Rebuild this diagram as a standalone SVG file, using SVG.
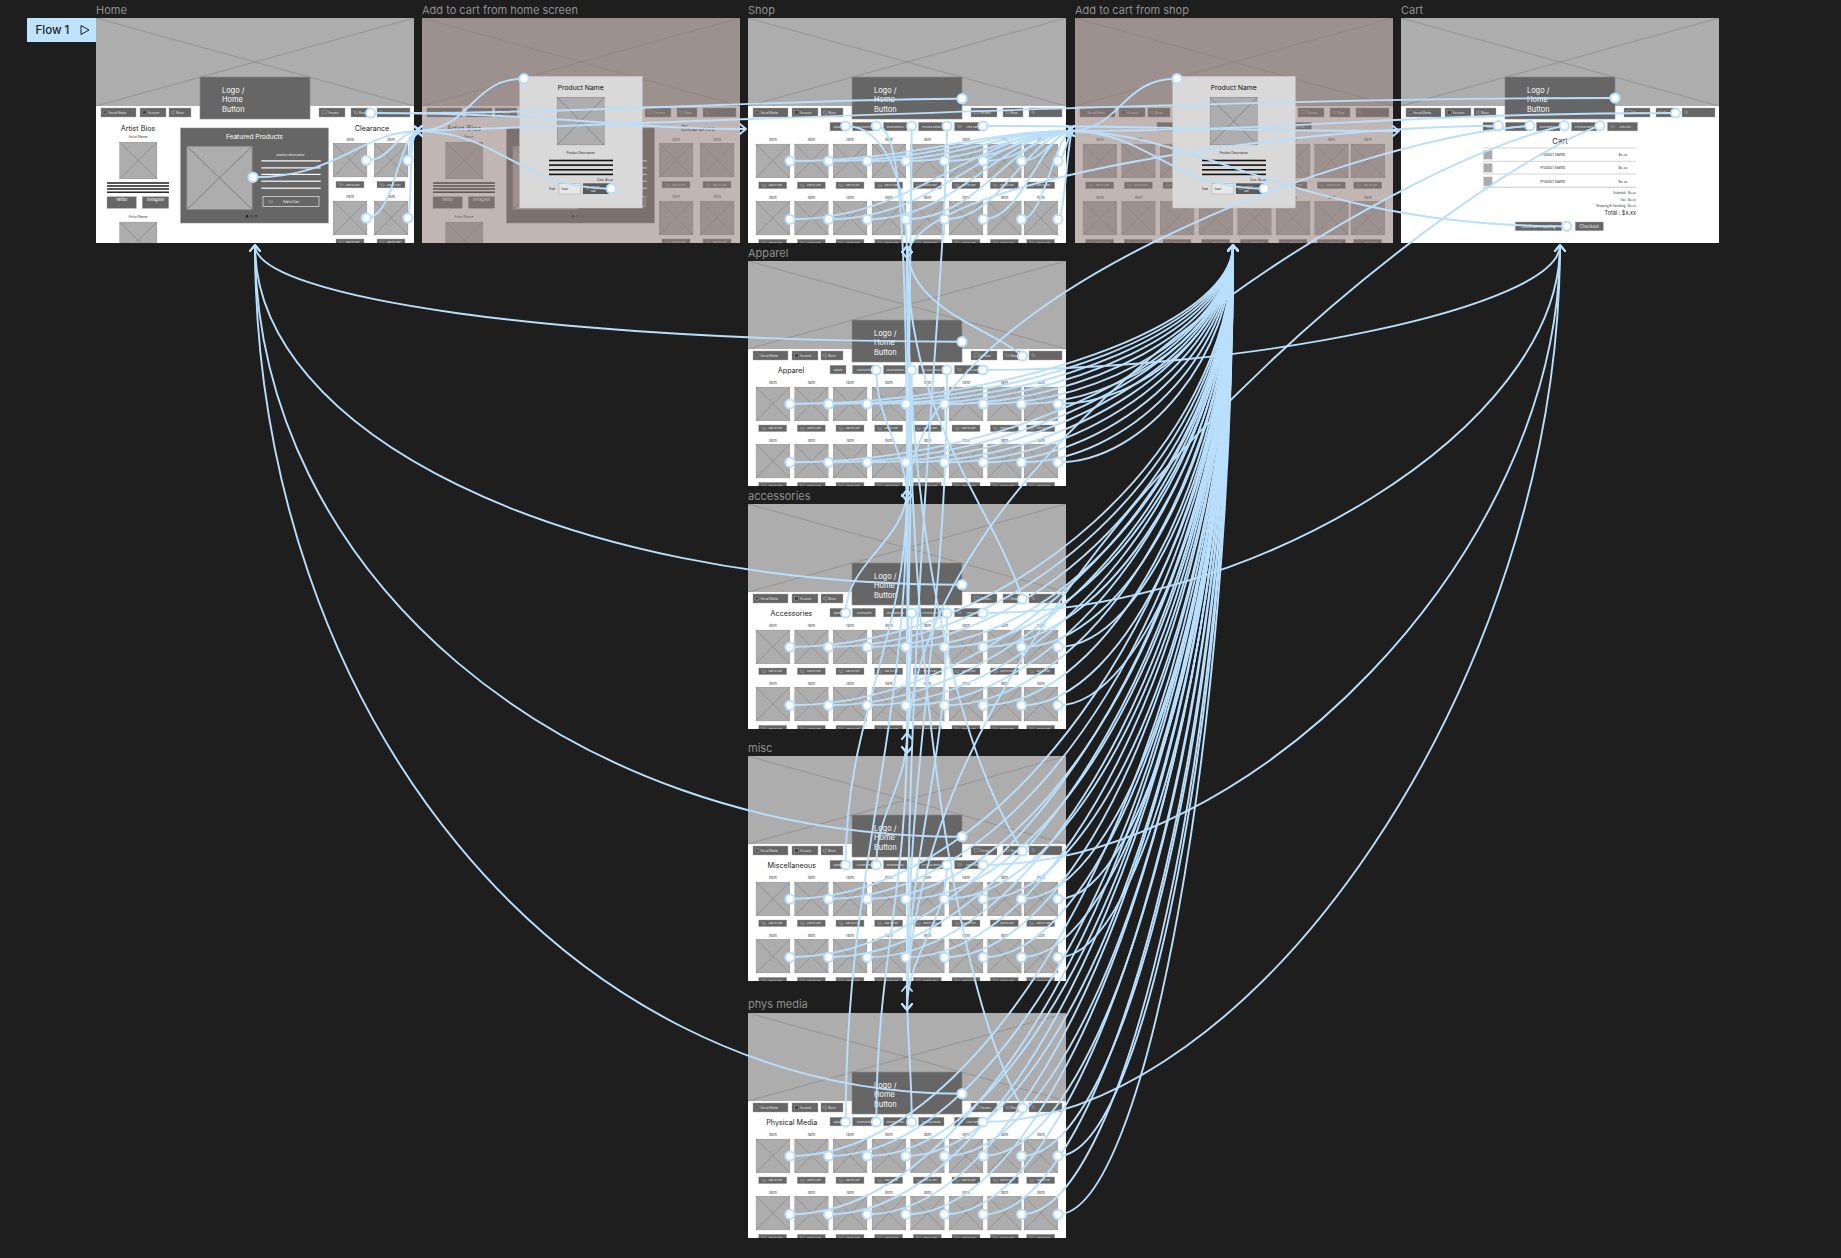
<svg xmlns="http://www.w3.org/2000/svg" xmlns:xlink="http://www.w3.org/1999/xlink" width="1841" height="1258" viewBox="0 0 1841 1258">
<style>
.t{font-family:Inter,"Liberation Sans",sans-serif}
.lbl{font-family:Inter,"Liberation Sans",sans-serif;font-size:11px;fill:#8f8f8f}
.btn{fill:#666;stroke:#a3a3a3;stroke-width:0.4}
.nt{font-family:Inter,"Liberation Sans",sans-serif;font-size:2.9px;fill:#e4e4e4}
.ct{font-family:Inter,"Liberation Sans",sans-serif;font-size:2.6px;fill:#e4e4e4;text-anchor:middle}
.lg{font-family:Inter,"Liberation Sans",sans-serif;font-size:7.4px;fill:#fff}
.ttl{font-family:Inter,"Liberation Sans",sans-serif;font-size:7.2px;fill:#1a1a1a;text-anchor:middle}
.c{fill:none;stroke:#b9dffc;stroke-width:1.9}
.m{marker-end:url(#ah)}
.d{fill:#fff;stroke:#b9dffc;stroke-width:2}
.ico{fill:none;stroke:#dcdcdc;stroke-width:0.3}
</style>
<defs>
<marker id="ah" viewBox="-10 -7 12 14" refX="0" refY="0" markerWidth="12" markerHeight="14" markerUnits="userSpaceOnUse" orient="auto">
<path d="M-6,-5 L0,0 L-6,5" fill="none" stroke="#b9dffc" stroke-width="1.9" stroke-linecap="round" stroke-linejoin="round"/>
</marker>
<clipPath id="fc"><rect x="0" y="0" width="318" height="225"/></clipPath>
<symbol id="ph" viewBox="0 0 34 34" preserveAspectRatio="none">
<rect x="0.25" y="0.25" width="33.5" height="33.5" fill="#adadad" stroke="#8c8c8c" stroke-width="0.5"/>
<path d="M0 0L34 34M34 0L0 34" stroke="#6f6f6f" stroke-width="0.4"/>
</symbol>
<g id="cart"><path class="ico" d="M0 0.3h0.8l0.7 2.4h2.6l0.6-1.8h-3.6"/></g>
<g id="item">
<text class="t" x="17.15" y="2.5" font-size="3.7" text-anchor="middle" fill="#333">Item</text>
<use href="#ph" x="0" y="5" width="34.3" height="34.3"/>
<rect class="btn" x="3" y="43.3" width="28" height="6.6"/>
<use href="#cart" x="5.5" y="45.2"/>
<text class="t" x="19.5" y="47.7" font-size="2.6" text-anchor="middle" fill="#e6e6e6">Add to Cart</text>
</g>
<g id="grid">
<use href="#item" x="7.7" y="120.7"/><use href="#item" x="46.3" y="120.7"/><use href="#item" x="85" y="120.7"/><use href="#item" x="123.7" y="120.7"/>
<use href="#item" x="162.3" y="120.7"/><use href="#item" x="201" y="120.7"/><use href="#item" x="239.3" y="120.7"/><use href="#item" x="275.7" y="120.7"/>
<use href="#item" x="7.7" y="178"/><use href="#item" x="46.3" y="178"/><use href="#item" x="85" y="178"/><use href="#item" x="123.7" y="178"/>
<use href="#item" x="162.3" y="178"/><use href="#item" x="201" y="178"/><use href="#item" x="239.3" y="178"/><use href="#item" x="275.7" y="178"/>
</g>
<g id="hdr">
<rect width="318" height="225" fill="#fff"/>
<rect width="318" height="88" fill="#adadad"/>
<path d="M0 0L318 88M318 0L0 88" stroke="#7a7a7a" stroke-width="0.5"/>
<rect x="104" y="59" width="110" height="42" fill="#666" stroke="#8a8a8a" stroke-width="0.6"/>
<text class="lg" x="126" y="74.5">Logo /</text>
<text class="lg" x="126" y="84">Home</text>
<text class="lg" x="126" y="93.5">Button</text>
<rect class="btn" x="5" y="90" width="35" height="9"/><circle cx="9" cy="94.5" r="2" fill="#555" stroke="#ccc" stroke-width="0.3"/><text class="nt" x="12.5" y="95.6">Social Media</text>
<rect class="btn" x="44" y="90" width="26" height="9"/><rect x="46.5" y="92.5" width="4" height="4" fill="#444" stroke="#ccc" stroke-width="0.3"/><text class="nt" x="52" y="95.6">Account</text>
<rect class="btn" x="73" y="90" width="22" height="9"/><path class="ico" d="M75.5 93.5h1l1.5-1.2v4.4l-1.5-1.2h-1z"/><text class="nt" x="80" y="95.6">Music</text>
<rect class="btn" x="223" y="90" width="26" height="9"/><path class="ico" d="M226 92.3h5v3h-3l-1.5 1.2v-1.2h-0.5z"/><text class="nt" x="232.5" y="95.6">Forums</text>
<rect class="btn" x="255" y="90" width="20" height="9"/><use href="#cart" x="257" y="92.8"/><text class="nt" x="262.5" y="95.6">Shop</text>
<rect class="btn" x="281" y="90" width="33" height="9"/><circle cx="285" cy="94" r="1.3" class="ico"/><path class="ico" d="M285.9 94.9l1.1 1.1"/>
</g>
<g id="cats">
<rect class="btn" x="82" y="104.3" width="16" height="8.6"/><text class="ct" x="90" y="109.5">Apparel</text>
<rect class="btn" x="104.5" y="104.3" width="23" height="8.6"/><text class="ct" x="116" y="109.5">Accessories</text>
<rect class="btn" x="135.5" y="104.3" width="23.5" height="8.6"/><text class="ct" x="147.25" y="109.5">Miscellaneous</text>
<rect class="btn" x="170.5" y="104.3" width="25.5" height="8.6"/><text class="ct" x="183.25" y="109.5">Physical Media</text>
<rect class="btn" x="206.5" y="104.3" width="30" height="8.6"/><use href="#cart" x="209" y="107"/><text class="ct" x="224" y="109.5">View Cart</text>
</g>
<g id="shopC"><use href="#hdr"/><use href="#cats"/><use href="#grid"/></g>
<g id="homeC">
<use href="#hdr"/>
<text class="ttl" x="42" y="113" font-size="6.6">Artist Bios</text>
<text class="t" x="42" y="119.5" font-size="3.4" text-anchor="middle" fill="#333">Artist Name</text>
<use href="#ph" x="23.3" y="124" width="38" height="37"/>
<rect x="11" y="164.3" width="62" height="1.4" fill="#111"/><rect x="11" y="167.3" width="62" height="1.4" fill="#111"/><rect x="11" y="170.3" width="62" height="1.4" fill="#111"/><rect x="11" y="173.5" width="62" height="1.4" fill="#111"/>
<rect class="btn" x="11" y="178.7" width="29.3" height="11.6"/><text class="t" x="25.6" y="183.4" font-size="3.7" text-anchor="middle" fill="#fff">Twitter</text>
<rect class="btn" x="46.3" y="178.7" width="26.4" height="11.6"/><text class="t" x="59.5" y="183.4" font-size="3.7" text-anchor="middle" fill="#fff">Instagram</text>
<text class="t" x="42" y="200" font-size="3.4" text-anchor="middle" fill="#333">Artist Name</text>
<use href="#ph" x="23.3" y="203.7" width="38" height="37"/>
<rect x="84.7" y="110" width="147.6" height="95" fill="#666" stroke="#888" stroke-width="0.5"/>
<text class="t" x="158.5" y="121.4" font-size="6.6" text-anchor="middle" fill="#fff">Featured Products</text>
<use href="#ph" x="90.3" y="127.7" width="66.4" height="64.3"/>
<text class="t" x="194.5" y="138" font-size="3" text-anchor="middle" fill="#eee">product description</text>
<rect x="165.3" y="142.3" width="59.4" height="1.2" fill="#fff"/><rect x="165.3" y="149.3" width="59.4" height="1.2" fill="#fff"/><rect x="165.3" y="155.8" width="59.4" height="1.2" fill="#fff"/><rect x="165.3" y="162.6" width="59.4" height="1.2" fill="#fff"/><rect x="165.3" y="169.6" width="59.4" height="1.2" fill="#fff"/>
<rect x="167" y="178.3" width="56" height="10" fill="none" stroke="#fff" stroke-width="0.6"/><use href="#cart" x="172" y="182"/>
<text class="t" x="195" y="184.5" font-size="3" text-anchor="middle" fill="#fff">Add to Cart</text>
<circle cx="151" cy="198.3" r="1.3" fill="#222"/><circle cx="155.5" cy="198.3" r="1.2" fill="none" stroke="#222" stroke-width="0.4"/><circle cx="160" cy="198.3" r="1.2" fill="none" stroke="#222" stroke-width="0.4"/>
<text class="ttl" x="276" y="113" font-size="6.6">Clearance</text>
<use href="#item" x="237" y="120"/><use href="#item" x="278" y="120"/>
<use href="#item" x="237" y="177.7"/><use href="#item" x="278" y="177.7"/>
</g>
<g id="popup">
<rect x="97.7" y="58.3" width="122.6" height="131.7" fill="#d9d9d9" stroke="#c4c4c4" stroke-width="0.5"/>
<text class="t" x="158.7" y="71.8" font-size="6.8" text-anchor="middle" fill="#111">Product Name</text>
<use href="#ph" x="134.7" y="79" width="48" height="48.3"/>
<text class="t" x="158.7" y="136.2" font-size="3" text-anchor="middle" fill="#222">Product Description</text>
<rect x="127" y="141.7" width="64" height="1.6" fill="#111"/><rect x="127" y="146.3" width="64" height="1.6" fill="#111"/><rect x="127" y="151" width="64" height="1.6" fill="#111"/><rect x="127" y="155.6" width="64" height="1.6" fill="#111"/>
<text class="t" x="191" y="163" font-size="3" text-anchor="end" fill="#222">Cost: $x.xx</text>
<text class="t" x="133" y="172" font-size="3" text-anchor="end" fill="#222">Size</text>
<rect x="137" y="165.3" width="21.7" height="10.7" fill="#e8e8e8" stroke="#9a9a9a" stroke-width="0.4"/>
<text class="t" x="139.5" y="171.8" font-size="2.8" fill="#333">Input</text>
<rect x="161" y="165.3" width="28" height="10.7" fill="#5a5a5a"/><use href="#cart" x="163" y="168.8"/>
<text class="t" x="169" y="169.6" font-size="2.7" fill="#eee">Add to</text><text class="t" x="169" y="173.6" font-size="2.7" fill="#eee">cart</text>
</g>
<g id="dotrow">
<circle class="d" cx="42" cy="0" r="4.6"/><circle class="d" cx="80.6" cy="0" r="4.6"/><circle class="d" cx="119.3" cy="0" r="4.6"/><circle class="d" cx="158" cy="0" r="4.6"/>
<circle class="d" cx="196.6" cy="0" r="4.6"/><circle class="d" cx="235.3" cy="0" r="4.6"/><circle class="d" cx="273.6" cy="0" r="4.6"/><circle class="d" cx="310" cy="0" r="4.6"/>
</g>
</defs>

<rect width="1841" height="1258" fill="#1e1e1e"/>

<g id="flow-start">
<rect x="27" y="18" width="69" height="24" fill="#bde3ff"/>
<text class="t" x="35.5" y="34.2" font-size="11.5" font-weight="500" fill="#1e1e1e">Flow 1</text>
<path d="M81 25.5L89 30L81 34.5Z" fill="none" stroke="#1e1e1e" stroke-width="1"/>
</g>

<g id="home"><text class="lbl" x="96" y="14">Home</text>
<g transform="translate(96,18)" clip-path="url(#fc)"><use href="#homeC"/></g></g>

<g id="add-to-cart-home"><text class="lbl" x="422" y="14">Add to cart from home screen</text>
<g transform="translate(422,18)" clip-path="url(#fc)"><use href="#homeC"/><rect width="318" height="225" fill="#8f7a76" opacity="0.55"/><use href="#popup"/></g></g>

<g id="shop"><text class="lbl" x="748" y="14">Shop</text>
<g transform="translate(748,18)" clip-path="url(#fc)"><use href="#shopC"/></g></g>

<g id="add-to-cart-shop"><text class="lbl" x="1075" y="14">Add to cart from shop</text>
<g transform="translate(1075,18)" clip-path="url(#fc)"><use href="#shopC"/><rect width="318" height="225" fill="#8f7a76" opacity="0.55"/><use href="#popup"/></g></g>

<g id="cart-frame"><text class="lbl" x="1401" y="14">Cart</text>
<g transform="translate(1401,18)" clip-path="url(#fc)"><use href="#hdr"/><use href="#cats"/>
<text class="t" x="159" y="126.3" font-size="7.6" text-anchor="middle" fill="#1a1a1a">Cart</text>
<path d="M82 130H235M82 143.3H235M82 156H235" stroke="#b5b5b5" stroke-width="0.6"/>
<rect x="82" y="168.6" width="153" height="1.4" fill="#d6d6d6"/>
<use href="#ph" x="82.3" y="132.3" width="9.3" height="9.3"/><use href="#ph" x="82.3" y="145.3" width="9.3" height="9.3"/><use href="#ph" x="82.3" y="158.6" width="9.3" height="9.3"/>
<text class="t" x="151.7" y="138.2" font-size="3.7" text-anchor="middle" fill="#333">Product Name</text>
<text class="t" x="151.7" y="151.4" font-size="3.7" text-anchor="middle" fill="#333">Product Name</text>
<text class="t" x="151.7" y="164.6" font-size="3.7" text-anchor="middle" fill="#333">Product Name</text>
<text class="t" x="222" y="138.2" font-size="3.5" text-anchor="middle" fill="#333">$x.xx</text>
<text class="t" x="222" y="151.4" font-size="3.5" text-anchor="middle" fill="#333">$x.xx</text>
<text class="t" x="222" y="164.6" font-size="3.5" text-anchor="middle" fill="#333">$x.xx</text>
<text class="t" x="235" y="176.3" font-size="3.1" text-anchor="end" fill="#333">Subtotal : $x.xx</text>
<text class="t" x="235" y="182.8" font-size="3.1" text-anchor="end" fill="#333">Tax : $x.xx</text>
<text class="t" x="235" y="189.4" font-size="3.1" text-anchor="end" fill="#333">Shipping &amp; Handling : $x.xx</text>
<text class="t" x="235" y="197.2" font-size="5.5" text-anchor="end" fill="#222">Total : $x.xx</text>
<rect class="btn" x="114.3" y="204" width="46.4" height="8.7"/><text class="t" x="137.5" y="209.6" font-size="3.7" text-anchor="middle" fill="#eee">Continue Shopping</text>
<rect class="btn" x="174.3" y="204" width="28" height="8.7"/><text class="t" x="188.3" y="209.8" font-size="4.3" text-anchor="middle" fill="#eee">Checkout</text>
</g></g>

<g id="apparel"><text class="lbl" x="748" y="257">Apparel</text>
<g transform="translate(748,261)" clip-path="url(#fc)"><use href="#shopC"/><text class="ttl" x="43" y="111.5">Apparel</text></g></g>

<g id="accessories"><text class="lbl" x="748" y="500">accessories</text>
<g transform="translate(748,504)" clip-path="url(#fc)"><use href="#shopC"/><text class="ttl" x="43.5" y="111.5">Accessories</text></g></g>

<g id="misc"><text class="lbl" x="748" y="752">misc</text>
<g transform="translate(748,756)" clip-path="url(#fc)"><use href="#shopC"/><text class="ttl" x="43.8" y="111.5">Miscellaneous</text></g></g>

<g id="phys-media"><text class="lbl" x="748" y="1008">phys media</text>
<g transform="translate(748,1013)" clip-path="url(#fc)"><use href="#shopC"/><text class="ttl" x="43.8" y="111.5">Physical Media</text></g></g>

<g id="connectors">
<path class="c m" d="M370.7 113C560 113 620 129 746 129"/>
<path class="c m" d="M253 177.3C340 177.3 360 131 420 131"/>
<path class="c m" d="M366.3 160.3C392 160.3 396 131 420 131"/>
<path class="c m" d="M408 160.3C411 148 409 131 420 131"/>
<path class="c m" d="M366.3 218C396 218 398 131 420 131"/>
<path class="c m" d="M408 218C414 190 406 131 420 131"/>
<path class="c m" d="M524 78.7C470 78.7 472 131 416 131"/>
<path class="c m" d="M611.3 188.7C520 188.7 500 131 416 131"/>
<path class="c" d="M962 98.7C800 98.7 600 113 414 113"/>
<path class="c m" d="M983 126C1200 126 1200 131 1399 131"/>
<path class="c m" d="M845.7 126C880 126 907 170 907 258"/>
<path class="c m" d="M876.3 126C896 126 907 180 907 501"/>
<path class="c m" d="M911.7 126C911.7 200 907 400 907 753"/>
<path class="c m" d="M947 126C945 300 907 600 907 1010"/>
<path class="c m" d="M790 161C917.4 161 974 131 1073 131"/>
<path class="c m" d="M828.6 161C938.6 161 987.5 131 1073 131"/>
<path class="c m" d="M867.3 161C959.9 161 1001 131 1073 131"/>
<path class="c m" d="M906 161C981.2 161 1014.6 131 1073 131"/>
<path class="c m" d="M944.6 161C1002.4 161 1028.1 131 1073 131"/>
<path class="c m" d="M983.3 161C1023.7 161 1041.6 131 1073 131"/>
<path class="c m" d="M1021.6 161C1044.7 161 1055 131 1073 131"/>
<path class="c m" d="M1058 161C1064.8 161 1067.8 131 1073 131"/>
<path class="c m" d="M790 219.3C917.4 219.3 974 131 1073 131"/>
<path class="c m" d="M828.6 219.3C938.6 219.3 987.5 131 1073 131"/>
<path class="c m" d="M867.3 219.3C959.9 219.3 1001 131 1073 131"/>
<path class="c m" d="M906 219.3C981.2 219.3 1014.6 131 1073 131"/>
<path class="c m" d="M944.6 219.3C1002.4 219.3 1028.1 131 1073 131"/>
<path class="c m" d="M983.3 219.3C1023.7 219.3 1041.6 131 1073 131"/>
<path class="c m" d="M1021.6 219.3C1044.7 219.3 1055 131 1073 131"/>
<path class="c m" d="M1058 219.3C1064.8 219.3 1067.8 131 1073 131"/>
<path class="c m" d="M1177 78.7C1120 78.7 1122 131 1068 131"/>
<path class="c m" d="M1264.3 188.7C1170 188.7 1150 131 1068 131"/>
<path class="c m" d="M1615 98C1250 98 800 118 416 131"/>
<path class="c m" d="M1675.7 113C1400 113 1300 131 1068 131"/>
<path class="c m" d="M1498.3 125.7C1300 126 907 180 907 258"/>
<path class="c m" d="M1530 125.7C1350 140 907 300 907 501"/>
<path class="c m" d="M1564.3 125.7C1400 160 907 450 907 753"/>
<path class="c m" d="M1600 125.7C1450 180 907 600 907 1010"/>
<path class="c m" d="M1566.7 226.3C1300 226.3 1200 131 1068 131"/>
<path class="c m" d="M962 341.7C560 341.7 255 298 255 245"/>
<path class="c m" d="M1022.5 356C995 330 907 310 907 246"/>
<path class="c m" d="M983 370C1250 370 1560 307.5 1560 245"/>
<path class="c m" d="M876.3 370C876.3 422.4 907 448.6 907 501"/>
<path class="c m" d="M911.7 370C911.7 523.2 907 599.8 907 753"/>
<path class="c m" d="M947 370C947 626 907 754 907 1010"/>
<path class="c m" d="M790 404C1011.5 404 1233 324.5 1233 245"/>
<path class="c m" d="M828.6 404C1030.8 404 1233 324.5 1233 245"/>
<path class="c m" d="M867.3 404C1050.2 404 1233 324.5 1233 245"/>
<path class="c m" d="M906 404C1069.5 404 1233 324.5 1233 245"/>
<path class="c m" d="M944.6 404C1088.8 404 1233 324.5 1233 245"/>
<path class="c m" d="M983.3 404C1108.2 404 1233 324.5 1233 245"/>
<path class="c m" d="M1021.6 404C1127.3 404 1233 324.5 1233 245"/>
<path class="c m" d="M1058 404C1145.5 404 1233 324.5 1233 245"/>
<path class="c m" d="M790 462.3C1011.5 462.3 1233 353.7 1233 245"/>
<path class="c m" d="M828.6 462.3C1030.8 462.3 1233 353.7 1233 245"/>
<path class="c m" d="M867.3 462.3C1050.2 462.3 1233 353.7 1233 245"/>
<path class="c m" d="M906 462.3C1069.5 462.3 1233 353.7 1233 245"/>
<path class="c m" d="M944.6 462.3C1088.8 462.3 1233 353.7 1233 245"/>
<path class="c m" d="M983.3 462.3C1108.2 462.3 1233 353.7 1233 245"/>
<path class="c m" d="M1021.6 462.3C1127.3 462.3 1233 353.7 1233 245"/>
<path class="c m" d="M1058 462.3C1145.5 462.3 1233 353.7 1233 245"/>
<path class="c m" d="M962 584.7C560 584.7 255 432 255 245"/>
<path class="c m" d="M1022.5 599C990 500 907 420 907 246"/>
<path class="c m" d="M983 613C1250 613 1560 429 1560 245"/>
<path class="c m" d="M845.7 613C845.7 563.8 907 539.2 907 490"/>
<path class="c m" d="M911.7 613C911.7 669 907 697 907 753"/>
<path class="c m" d="M947 613C947 771.8 907 851.2 907 1010"/>
<path class="c m" d="M790 647C1011.5 647 1233 446 1233 245"/>
<path class="c m" d="M828.6 647C1030.8 647 1233 446 1233 245"/>
<path class="c m" d="M867.3 647C1050.2 647 1233 446 1233 245"/>
<path class="c m" d="M906 647C1069.5 647 1233 446 1233 245"/>
<path class="c m" d="M944.6 647C1088.8 647 1233 446 1233 245"/>
<path class="c m" d="M983.3 647C1108.2 647 1233 446 1233 245"/>
<path class="c m" d="M1021.6 647C1127.3 647 1233 446 1233 245"/>
<path class="c m" d="M1058 647C1145.5 647 1233 446 1233 245"/>
<path class="c m" d="M790 705.3C1011.5 705.3 1233 475.2 1233 245"/>
<path class="c m" d="M828.6 705.3C1030.8 705.3 1233 475.2 1233 245"/>
<path class="c m" d="M867.3 705.3C1050.2 705.3 1233 475.2 1233 245"/>
<path class="c m" d="M906 705.3C1069.5 705.3 1233 475.2 1233 245"/>
<path class="c m" d="M944.6 705.3C1088.8 705.3 1233 475.2 1233 245"/>
<path class="c m" d="M983.3 705.3C1108.2 705.3 1233 475.2 1233 245"/>
<path class="c m" d="M1021.6 705.3C1127.3 705.3 1233 475.2 1233 245"/>
<path class="c m" d="M1058 705.3C1145.5 705.3 1233 475.2 1233 245"/>
<path class="c m" d="M962 836.7C560 836.7 255 570.4 255 245"/>
<path class="c m" d="M1022.5 851C965 760 907 560 907 246"/>
<path class="c m" d="M983 865C1250 865 1560 555 1560 245"/>
<path class="c m" d="M845.7 865C845.7 715 907 640 907 490"/>
<path class="c m" d="M876.3 865C876.3 812.2 907 785.8 907 733"/>
<path class="c m" d="M947 865C947 923 907 952 907 1010"/>
<path class="c m" d="M790 899C1011.5 899 1233 572 1233 245"/>
<path class="c m" d="M828.6 899C1030.8 899 1233 572 1233 245"/>
<path class="c m" d="M867.3 899C1050.2 899 1233 572 1233 245"/>
<path class="c m" d="M906 899C1069.5 899 1233 572 1233 245"/>
<path class="c m" d="M944.6 899C1088.8 899 1233 572 1233 245"/>
<path class="c m" d="M983.3 899C1108.2 899 1233 572 1233 245"/>
<path class="c m" d="M1021.6 899C1127.3 899 1233 572 1233 245"/>
<path class="c m" d="M1058 899C1145.5 899 1233 572 1233 245"/>
<path class="c m" d="M790 957.3C1011.5 957.3 1233 601.2 1233 245"/>
<path class="c m" d="M828.6 957.3C1030.8 957.3 1233 601.2 1233 245"/>
<path class="c m" d="M867.3 957.3C1050.2 957.3 1233 601.2 1233 245"/>
<path class="c m" d="M906 957.3C1069.5 957.3 1233 601.2 1233 245"/>
<path class="c m" d="M944.6 957.3C1088.8 957.3 1233 601.2 1233 245"/>
<path class="c m" d="M983.3 957.3C1108.2 957.3 1233 601.2 1233 245"/>
<path class="c m" d="M1021.6 957.3C1127.3 957.3 1233 601.2 1233 245"/>
<path class="c m" d="M1058 957.3C1145.5 957.3 1233 601.2 1233 245"/>
<path class="c m" d="M962 1093.7C560 1093.7 255 711.8 255 245"/>
<path class="c m" d="M1022.5 1108C960 1000 907 700 907 246"/>
<path class="c m" d="M983 1122C1250 1122 1560 683 1560 245"/>
<path class="c m" d="M845.7 1122C845.7 869.2 907 742.8 907 490"/>
<path class="c m" d="M876.3 1122C876.3 966.4 907 888.6 907 733"/>
<path class="c m" d="M911.7 1122C911.7 1067.2 907 1039.8 907 985"/>
<path class="c m" d="M790 1156C1011.5 1156 1233 700.5 1233 245"/>
<path class="c m" d="M828.6 1156C1030.8 1156 1233 700.5 1233 245"/>
<path class="c m" d="M867.3 1156C1050.2 1156 1233 700.5 1233 245"/>
<path class="c m" d="M906 1156C1069.5 1156 1233 700.5 1233 245"/>
<path class="c m" d="M944.6 1156C1088.8 1156 1233 700.5 1233 245"/>
<path class="c m" d="M983.3 1156C1108.2 1156 1233 700.5 1233 245"/>
<path class="c m" d="M1021.6 1156C1127.3 1156 1233 700.5 1233 245"/>
<path class="c m" d="M1058 1156C1145.5 1156 1233 700.5 1233 245"/>
<path class="c m" d="M790 1214.3C1011.5 1214.3 1233 729.7 1233 245"/>
<path class="c m" d="M828.6 1214.3C1030.8 1214.3 1233 729.7 1233 245"/>
<path class="c m" d="M867.3 1214.3C1050.2 1214.3 1233 729.7 1233 245"/>
<path class="c m" d="M906 1214.3C1069.5 1214.3 1233 729.7 1233 245"/>
<path class="c m" d="M944.6 1214.3C1088.8 1214.3 1233 729.7 1233 245"/>
<path class="c m" d="M983.3 1214.3C1108.2 1214.3 1233 729.7 1233 245"/>
<path class="c m" d="M1021.6 1214.3C1127.3 1214.3 1233 729.7 1233 245"/>
<path class="c m" d="M1058 1214.3C1145.5 1214.3 1233 729.7 1233 245"/>
</g>

<g id="hotspots">
<circle class="d" cx="370.7" cy="113" r="4.6"/><circle class="d" cx="253" cy="177.3" r="4.6"/>
<circle class="d" cx="366.3" cy="160.3" r="4.6"/><circle class="d" cx="408" cy="160.3" r="4.6"/><circle class="d" cx="366.3" cy="218" r="4.6"/><circle class="d" cx="408" cy="218" r="4.6"/>
<circle class="d" cx="524" cy="78.7" r="4.6"/><circle class="d" cx="611.3" cy="188.7" r="4.6"/>
<circle class="d" cx="1177" cy="78.7" r="4.6"/><circle class="d" cx="1264.3" cy="188.7" r="4.6"/>
<circle class="d" cx="1615" cy="98" r="4.6"/><circle class="d" cx="1675.7" cy="113" r="4.6"/>
<circle class="d" cx="1498.3" cy="125.7" r="4.6"/><circle class="d" cx="1530" cy="125.7" r="4.6"/><circle class="d" cx="1564.3" cy="125.7" r="4.6"/><circle class="d" cx="1600" cy="125.7" r="4.6"/>
<circle class="d" cx="1566.7" cy="226.3" r="4.6"/>
<circle class="d" cx="962" cy="98.7" r="4.6"/><circle class="d" cx="845.7" cy="126" r="4.6"/><circle class="d" cx="876.3" cy="126" r="4.6"/><circle class="d" cx="911.7" cy="126" r="4.6"/><circle class="d" cx="947" cy="126" r="4.6"/><circle class="d" cx="983" cy="126" r="4.6"/>
<use href="#dotrow" x="748" y="161"/><use href="#dotrow" x="748" y="219.3"/>
<circle class="d" cx="962" cy="341.7" r="4.6"/><circle class="d" cx="1022.5" cy="356" r="4.6"/><circle class="d" cx="876.3" cy="370" r="4.6"/><circle class="d" cx="911.7" cy="370" r="4.6"/><circle class="d" cx="947" cy="370" r="4.6"/><circle class="d" cx="983" cy="370" r="4.6"/>
<use href="#dotrow" x="748" y="404"/><use href="#dotrow" x="748" y="462.3"/>
<circle class="d" cx="962" cy="584.7" r="4.6"/><circle class="d" cx="1022.5" cy="599" r="4.6"/><circle class="d" cx="845.7" cy="613" r="4.6"/><circle class="d" cx="911.7" cy="613" r="4.6"/><circle class="d" cx="947" cy="613" r="4.6"/><circle class="d" cx="983" cy="613" r="4.6"/>
<use href="#dotrow" x="748" y="647"/><use href="#dotrow" x="748" y="705.3"/>
<circle class="d" cx="962" cy="836.7" r="4.6"/><circle class="d" cx="1022.5" cy="851" r="4.6"/><circle class="d" cx="845.7" cy="865" r="4.6"/><circle class="d" cx="876.3" cy="865" r="4.6"/><circle class="d" cx="947" cy="865" r="4.6"/><circle class="d" cx="983" cy="865" r="4.6"/>
<use href="#dotrow" x="748" y="899"/><use href="#dotrow" x="748" y="957.3"/>
<circle class="d" cx="962" cy="1093.7" r="4.6"/><circle class="d" cx="1022.5" cy="1108" r="4.6"/><circle class="d" cx="845.7" cy="1122" r="4.6"/><circle class="d" cx="876.3" cy="1122" r="4.6"/><circle class="d" cx="911.7" cy="1122" r="4.6"/><circle class="d" cx="983" cy="1122" r="4.6"/>
<use href="#dotrow" x="748" y="1156"/><use href="#dotrow" x="748" y="1214.3"/>
</g>
</svg>
